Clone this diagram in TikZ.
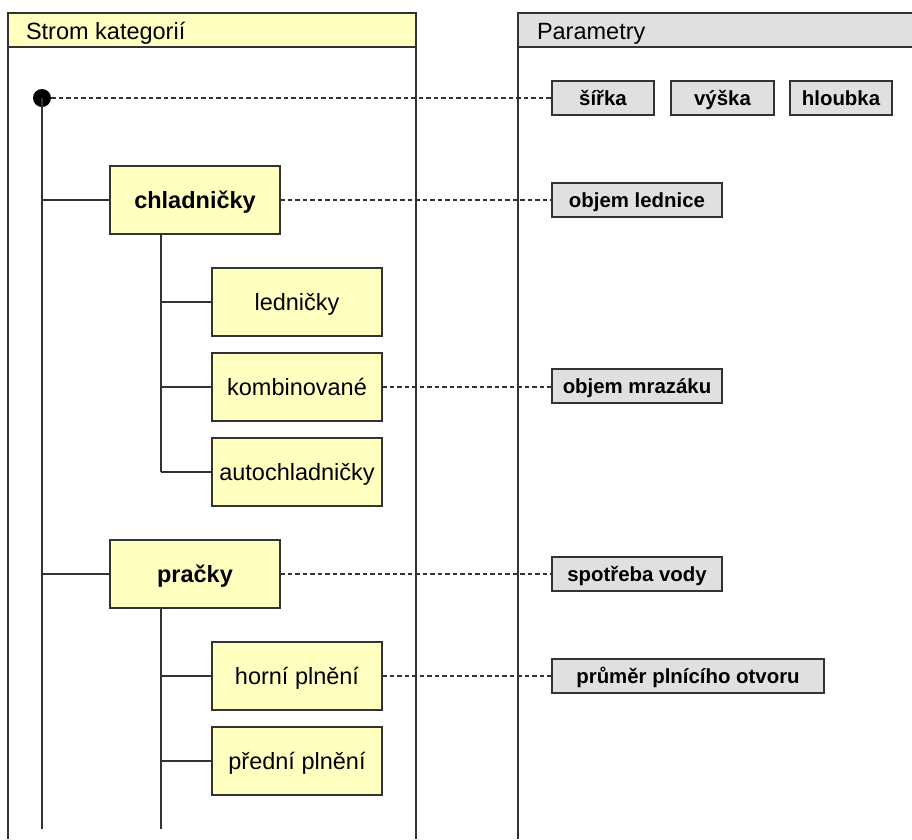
\documentclass[tikz,border=0pt]{standalone}
\usepackage{fontspec}
\setmainfont{Liberation Sans}
\definecolor{boxyellow}{HTML}{FFFFC0}
\definecolor{boxgray}{HTML}{E0E0E0}
\definecolor{linegray}{HTML}{333333}
\begin{document}
\begin{tikzpicture}[x=1pt,y=-1pt,
  every node/.style={inner sep=0pt, outer sep=0pt, text=black},
  catbox/.style={draw=linegray, line width=1.6pt, fill=boxyellow, minimum width=170pt, minimum height=68pt, text height=16.8pt, text depth=0pt, font=\fontsize{23.5}{28}\selectfont},
  catbold/.style={catbox, font=\fontsize{23.5}{28}\selectfont\bfseries},
  parbox/.style={draw=linegray, line width=1.6pt, fill=boxgray, minimum height=34pt, text height=14.6pt, text depth=0pt, font=\fontsize{20.4}{24}\selectfont\bfseries},
  tree/.style={draw=linegray, line width=1.6pt},
  link/.style={draw=linegray, line width=1.5pt, dash pattern=on 4.5pt off 3pt},
  panel/.style={draw=linegray, line width=1.6pt},
  headtext/.style={anchor=base west, font=\fontsize{23.5}{28}\selectfont}
]
\useasboundingbox (0,0) rectangle (912,839);
% panels
\filldraw[panel, fill=boxyellow] (8,13) rectangle (416,47);
\draw[panel] (8,13) -- (8,839);
\draw[panel] (416,13) -- (416,839);
\filldraw[panel, fill=boxgray] (912,47) -- (518,47) -- (518,13) -- (912,13);
\draw[panel] (518,13) -- (518,839);
\node[headtext] (h1) at (26,39) {Strom kategorií};
\node[headtext] (h2) at (537,39) {Parametry};

% tree nodes
\node[circle, fill=black, minimum size=18pt] (root) at (42,98) {};
\coordinate (rootend) at (42,829);
\node[catbold] (chl) at (195,200) {chladničky};
\node[catbox] (led) at (297,302) {ledničky};
\node[catbox] (kom) at (297,387) {kombinované};
\node[catbox] (aut) at (297,472) {autochladničky};
\node[catbold] (pra) at (195,574) {pračky};
\node[catbox] (hor) at (297,676) {horní plnění};
\node[catbox] (pre) at (297,761) {přední plnění};
\coordinate (chlend) at (161,472);
\coordinate (praend) at (161,829);

% parameters
\node[parbox, minimum width=102pt] (sir) at (603,98) {šířka};
\node[parbox, minimum width=103pt] (vys) at (722.5,98) {výška};
\node[parbox, minimum width=102pt] (hlo) at (841,98) {hloubka};
\node[parbox, minimum width=170pt] (obl) at (637,200) {objem lednice};
\node[parbox, minimum width=170pt] (obm) at (637,386) {objem mrazáku};
\node[parbox, minimum width=170pt] (spv) at (637,574) {spotřeba vody};
\node[parbox, minimum width=272pt] (pru) at (688,676) {průměr plnícího otvoru};

% tree connectors
\draw[tree] (root.center) -- (rootend);
\draw[tree] (root |- chl) -- (chl.west);
\draw[tree] (root |- pra) -- (pra.west);
\draw[tree] (chl.south -| chlend) -- (chlend);
\draw[tree] (chlend |- led) -- (led.west);
\draw[tree] (chlend |- kom) -- (kom.west);
\draw[tree] (chlend |- aut) -- (aut.west);
\draw[tree] (pra.south -| praend) -- (praend);
\draw[tree] (praend |- hor) -- (hor.west);
\draw[tree] (praend |- pre) -- (pre.west);

% parameter links
\draw[link] (root.east) -- (sir.west);
\draw[link] (chl.east) -- (obl.west);
\draw[link] (kom.east) -- (obm.west |- kom.east);
\draw[link] (pra.east) -- (spv.west);
\draw[link] (hor.east) -- (pru.west);
\end{tikzpicture}
\end{document}
